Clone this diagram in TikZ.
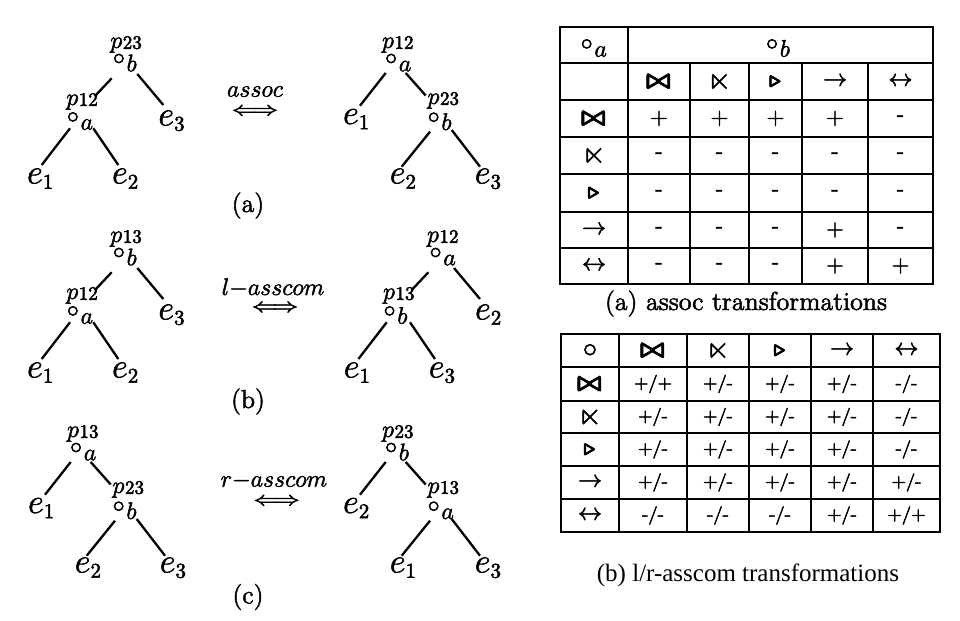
\documentclass[tikz,border=0pt]{standalone}
\usepackage{amsmath,amssymb}
\usepackage{fontspec}
\usepackage{graphicx}
\usetikzlibrary{calc}
\newfontfamily\capfont{Liberation Serif}
\newcommand\heavyon{\special{pdf:literal direct 0.25 w 2 Tr}}
\newcommand\heavyoff{\special{pdf:literal direct 0 Tr}}
\newcommand\plab[1]{\raisebox{0pt}[\height][0pt]{\fontsize{12}{12}\selectfont$p$}\kern0.3pt\raisebox{-0.4pt}{\fontsize{9.5}{9.5}\selectfont #1}}
\newcommand\opn[1]{\raisebox{3.4pt}[0pt][0pt]{\fontsize{12}{12}\selectfont$\circ$}\kern0.9pt{\fontsize{12}{12}\selectfont$#1$}}
\newcommand\leaf[1]{{\fontsize{17.28}{17}\selectfont$e_{\mbox{\fontsize{10.5}{10}\selectfont #1}}$}}
\newcommand\sj{{\fontsize{14.4}{14}\selectfont$\pmb{\bowtie}$}}
\newcommand\slt{{\fontsize{15}{15}\selectfont$\ltimes$}}
\newcommand\str{{\fontsize{11}{11}\selectfont$\pmb{\triangleright}$}}
\newcommand\sra{{\fontsize{12}{12}\selectfont$\rightarrow$}}
\newcommand\slra{{\fontsize{12}{12}\selectfont$\leftrightarrow$}}
\newcommand\sci{{\fontsize{14.4}{14}\selectfont$\circ$}}
\newcommand\dbl{\scalebox{1.26}[1]{\fontsize{10}{10}\selectfont$\Longleftrightarrow$}}
\tikzset{
  every node/.append style={execute at begin node=\heavyon, execute at end node=\heavyoff},
  lbl/.style={inner sep=0pt, anchor=base west},
  branch/.style={line width=1.15pt},
  tbl/.style={line width=0.8pt},
  cella/.style={inner sep=0pt, anchor=center, font=\fontsize{11.5}{11.5}\selectfont},
  cellb/.style={inner sep=0pt, anchor=center, font=\fontsize{9}{9}\selectfont},
  captxt/.style={inner sep=0pt, anchor=base},
}
% left-deep tree: #1 prefix, #2 root p, #3 root op, #4 left p, #5 left op, #6 right leaf, #7 ll leaf, #8 lr leaf
\newcommand\treeL[8]{%
 \node[lbl] (#1rp) at (0,0) {\plab{#2}};
 \node[lbl] (#1ro) at (2.5,23.3) {\opn{#3}};
 \node[lbl] (#1lp) at (-44,57) {\plab{#4}};
 \node[lbl] (#1lo) at (-43.5,81.7) {\opn{#5}};
 \node[lbl] (#1r) at (48,77.5) {\leaf{#6}};
 \node[lbl] (#1ll) at (-83.3,135.5) {\leaf{#7}};
 \node[lbl] (#1lr) at (1.7,135.5) {\leaf{#8}};
 \draw[branch] ($(#1ro.base west)+(-0.8,7)$) -- ($(#1lo.base west)+(28.5,-33.7)$);
 \draw[branch] ($(#1ro.base west)+(24.8,2.7)$) -- ($(#1r.base west)+(5.3,-20.5)$);
 \draw[branch] ($(#1lo.base west)+(3.5,-1.4)$) -- ($(#1ll.base west)+(15,-18.5)$);
 \draw[branch] ($(#1lo.base west)+(26.8,-1.4)$) -- ($(#1lr.base west)+(6.6,-18.5)$);
}
% right-deep tree: #1 prefix, #2 root p, #3 root op, #4 left leaf, #5 right p, #6 right op, #7 rl leaf, #8 rr leaf
\newcommand\treeR[8]{%
 \node[lbl] (#1rp) at (0,0) {\plab{#2}};
 \node[lbl] (#1ro) at (3,23.3) {\opn{#3}};
 \node[lbl] (#1l) at (-39,76) {\leaf{#4}};
 \node[lbl] (#1rq) at (45.5,56) {\plab{#5}};
 \node[lbl] (#1ru) at (45.6,82) {\opn{#6}};
 \node[lbl] (#1rl) at (7.7,135.5) {\leaf{#7}};
 \node[lbl] (#1rr) at (92.7,135.5) {\leaf{#8}};
 \draw[branch] ($(#1ro.base west)+(1,1.7)$) -- ($(#1l.base west)+(17.3,-18.3)$);
 \draw[branch] ($(#1ro.base west)+(21,1.7)$) -- ($(#1ru.base west)+(-1.6,-34.5)$);
 \draw[branch] ($(#1ru.base west)+(2.7,1.7)$) -- ($(#1rl.base west)+(12.3,-16.8)$);
 \draw[branch] ($(#1ru.base west)+(24.4,0)$) -- ($(#1rr.base west)+(5.6,-16.8)$);
}
\newcommand\trowa[8]{%
 \node[cella] (#2h) at (594,#1) {#3};
 \node[cella] (#2a) at (659,#1) {#4};
 \node[cella] (#2b) at (719.5,#1) {#5};
 \node[cella] (#2c) at (775.5,#1) {#6};
 \node[cella] (#2d) at (835,#1) {#7};
 \node[cella] (#2e) at (900.5,#1) {#8};}
\newcommand\trowb[8]{%
 \node[cellb] (#2h) at (590,#1) {#3};
 \node[cellb] (#2a) at (653,#1) {#4};
 \node[cellb] (#2b) at (718,#1) {#5};
 \node[cellb] (#2c) at (780,#1) {#6};
 \node[cellb] (#2d) at (842,#1) {#7};
 \node[cellb] (#2e) at (906.5,#1) {#8};}
\begin{document}
\begin{tikzpicture}[x=0.5pt,y=-0.5pt]
\useasboundingbox (0,0) rectangle (960,621);
\fill[white] (0,0) rectangle (960,621);
% ---- trees ----
\begin{scope}[shift={(110,48)}]\treeL{aL}{23}{b}{12}{a}{3}{1}{2}\end{scope}
\begin{scope}[shift={(381.7,48)}]\treeR{aR}{12}{a}{1}{23}{b}{2}{3}\end{scope}
\begin{scope}[shift={(110,242)}]\treeL{bL}{13}{b}{12}{a}{3}{1}{2}\end{scope}
\begin{scope}[shift={(426.7,242)}]\treeL{bR}{12}{a}{13}{b}{2}{1}{3}\end{scope}
\begin{scope}[shift={(66.7,437)}]\treeR{cL}{13}{a}{1}{23}{b}{2}{3}\end{scope}
\begin{scope}[shift={(381.7,437)}]\treeR{cR}{23}{b}{2}{13}{a}{1}{3}\end{scope}
% ---- transformation arrows ----
\node[captxt] (ta) at (255,96.7) {\fontsize{12}{12}\selectfont$assoc$};
\node[inner sep=0pt] (da) at (255,111.7) {\dbl};
\node[captxt] (tb) at (273,295) {\fontsize{12}{12}\selectfont$l{-}asscom$};
\node[inner sep=0pt] (db) at (275,308.3) {\dbl};
\node[captxt] (tc) at (274,486.7) {\fontsize{12}{12}\selectfont$r{-}asscom$};
\node[inner sep=0pt] (dc) at (276.7,501.7) {\dbl};
% ---- panel labels ----
\node[captxt] (pa) at (248,212) {\fontsize{13}{13}\selectfont (a)};
\node[captxt] (pb) at (248,408) {\fontsize{13}{13}\selectfont (b)};
\node[captxt] (pc) at (248,603.5) {\fontsize{13}{13}\selectfont (c)};
% ---- table (a) ----
\draw[tbl] (560,27) rectangle (933,284);
\foreach \yy in {63,100,137,174,212,248} \draw[tbl] (560,\yy) -- (933,\yy);
\draw[tbl] (628,27) -- (628,284);
\foreach \xx in {690,749,802,868} \draw[tbl] (\xx,63) -- (\xx,284);
\node[lbl] (taoa) at (580.3,56.7) {\opn{a}};
\node[lbl] (taob) at (765.7,56.7) {\opn{b}};
\trowa{81.5}{ta1}{}{\sj}{\slt}{\str}{\sra}{\slra}
\trowa{118.5}{ta2}{\sj}{+}{+}{+}{+}{-}
\trowa{155.5}{ta3}{\slt}{-}{-}{-}{-}{-}
\trowa{193}{ta4}{\str}{-}{-}{-}{-}{-}
\trowa{230}{ta5}{\sra}{-}{-}{-}{+}{-}
\trowa{266}{ta6}{\slra}{-}{-}{-}{+}{+}
\node[captxt] (capa) at (746,310) {\fontsize{13}{13}\selectfont (a) assoc transformations};
% ---- table (b) ----
\draw[tbl] (561,334) rectangle (940,532);
\foreach \yy in {367,401,433,466,499} \draw[tbl] (561,\yy) -- (940,\yy);
\foreach \xx in {619,687,749,811,873} \draw[tbl] (\xx,334) -- (\xx,532);
\trowb{350.5}{tb0}{\sci}{\sj}{\slt}{\str}{\sra}{\slra}
\trowb{384}{tb1}{\sj}{+/+}{+/-}{+/-}{+/-}{-/-}
\trowb{417}{tb2}{\slt}{+/-}{+/-}{+/-}{+/-}{-/-}
\trowb{449.5}{tb3}{\str}{+/-}{+/-}{+/-}{+/-}{-/-}
\trowb{482.5}{tb4}{\sra}{+/-}{+/-}{+/-}{+/-}{+/-}
\trowb{515.5}{tb5}{\slra}{-/-}{-/-}{-/-}{+/-}{+/+}
\node[captxt] (capb) at (748,581.7) {\heavyoff\capfont\fontsize{12.5}{12.5}\selectfont (b) l/r-asscom transformations};
\end{tikzpicture}
\end{document}
